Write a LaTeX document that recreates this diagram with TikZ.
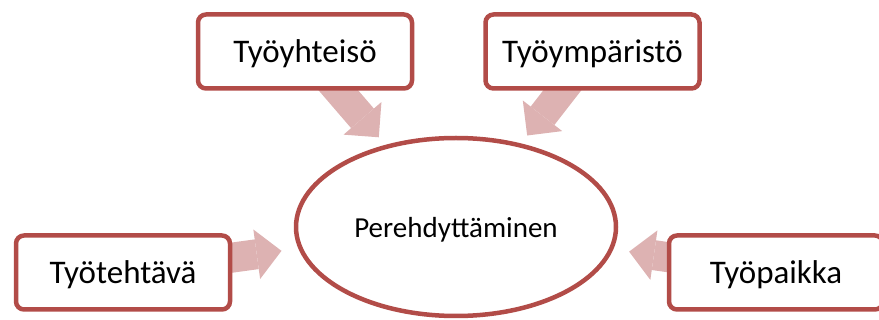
\documentclass[tikz,border=0pt]{standalone}
\usepackage{fontspec}
\setmainfont{Carlito}
\usetikzlibrary{shapes.geometric}
\usetikzlibrary{arrows.meta, backgrounds}
\definecolor{boxred}{RGB}{178,76,72}
\definecolor{arrowpink}{RGB}{221,178,178}

\begin{document}
\begin{tikzpicture}[x=1pt, y=-1pt,
        topic/.style={draw=boxred, line width=4.5pt, fill=white, rounded corners=8pt,
            minimum width=214pt, minimum height=74pt, text depth=0pt,
            font=\fontsize{33}{40}\selectfont},
        centre/.style={draw=boxred, line width=4.5pt, fill=white, ellipse,
            minimum width=320pt, minimum height=178pt, text depth=0pt,
            font=\fontsize{29}{35}\selectfont},
        fatarrow/.style={draw=arrowpink, line width=30pt, shorten <=-25pt,
            -{Triangle[length=25pt, width=50pt, line width=0pt]}}]
        % Frame of the picture
        \useasboundingbox (0, 0) rectangle (879, 320);

        % Centre and the four topics
        \node[centre] (pere) at (456, 227) {Perehdyttäminen};
        \node[topic] (yht) at (305, 51.5) {Työyhteisö};
        \node[topic] (ymp) at (592.5, 51.5) {Työympäristö};
        \node[topic] (teh) at (123, 272.5) {Työtehtävä};
        \node[topic] (paik) at (776, 272.5) {Työpaikka};

        % Arrows from the topics to the centre
        \begin{scope}[on background layer]
            \draw[fatarrow, shorten >=10pt] (yht) -- (pere);
            \draw[fatarrow, shorten >=10pt] (ymp) -- (pere);
            \draw[fatarrow, shorten >=17pt] (teh) -- (pere);
            \draw[fatarrow, shorten >=16pt] (paik) -- (pere);
        \end{scope}
    \end{tikzpicture}
\end{document}
